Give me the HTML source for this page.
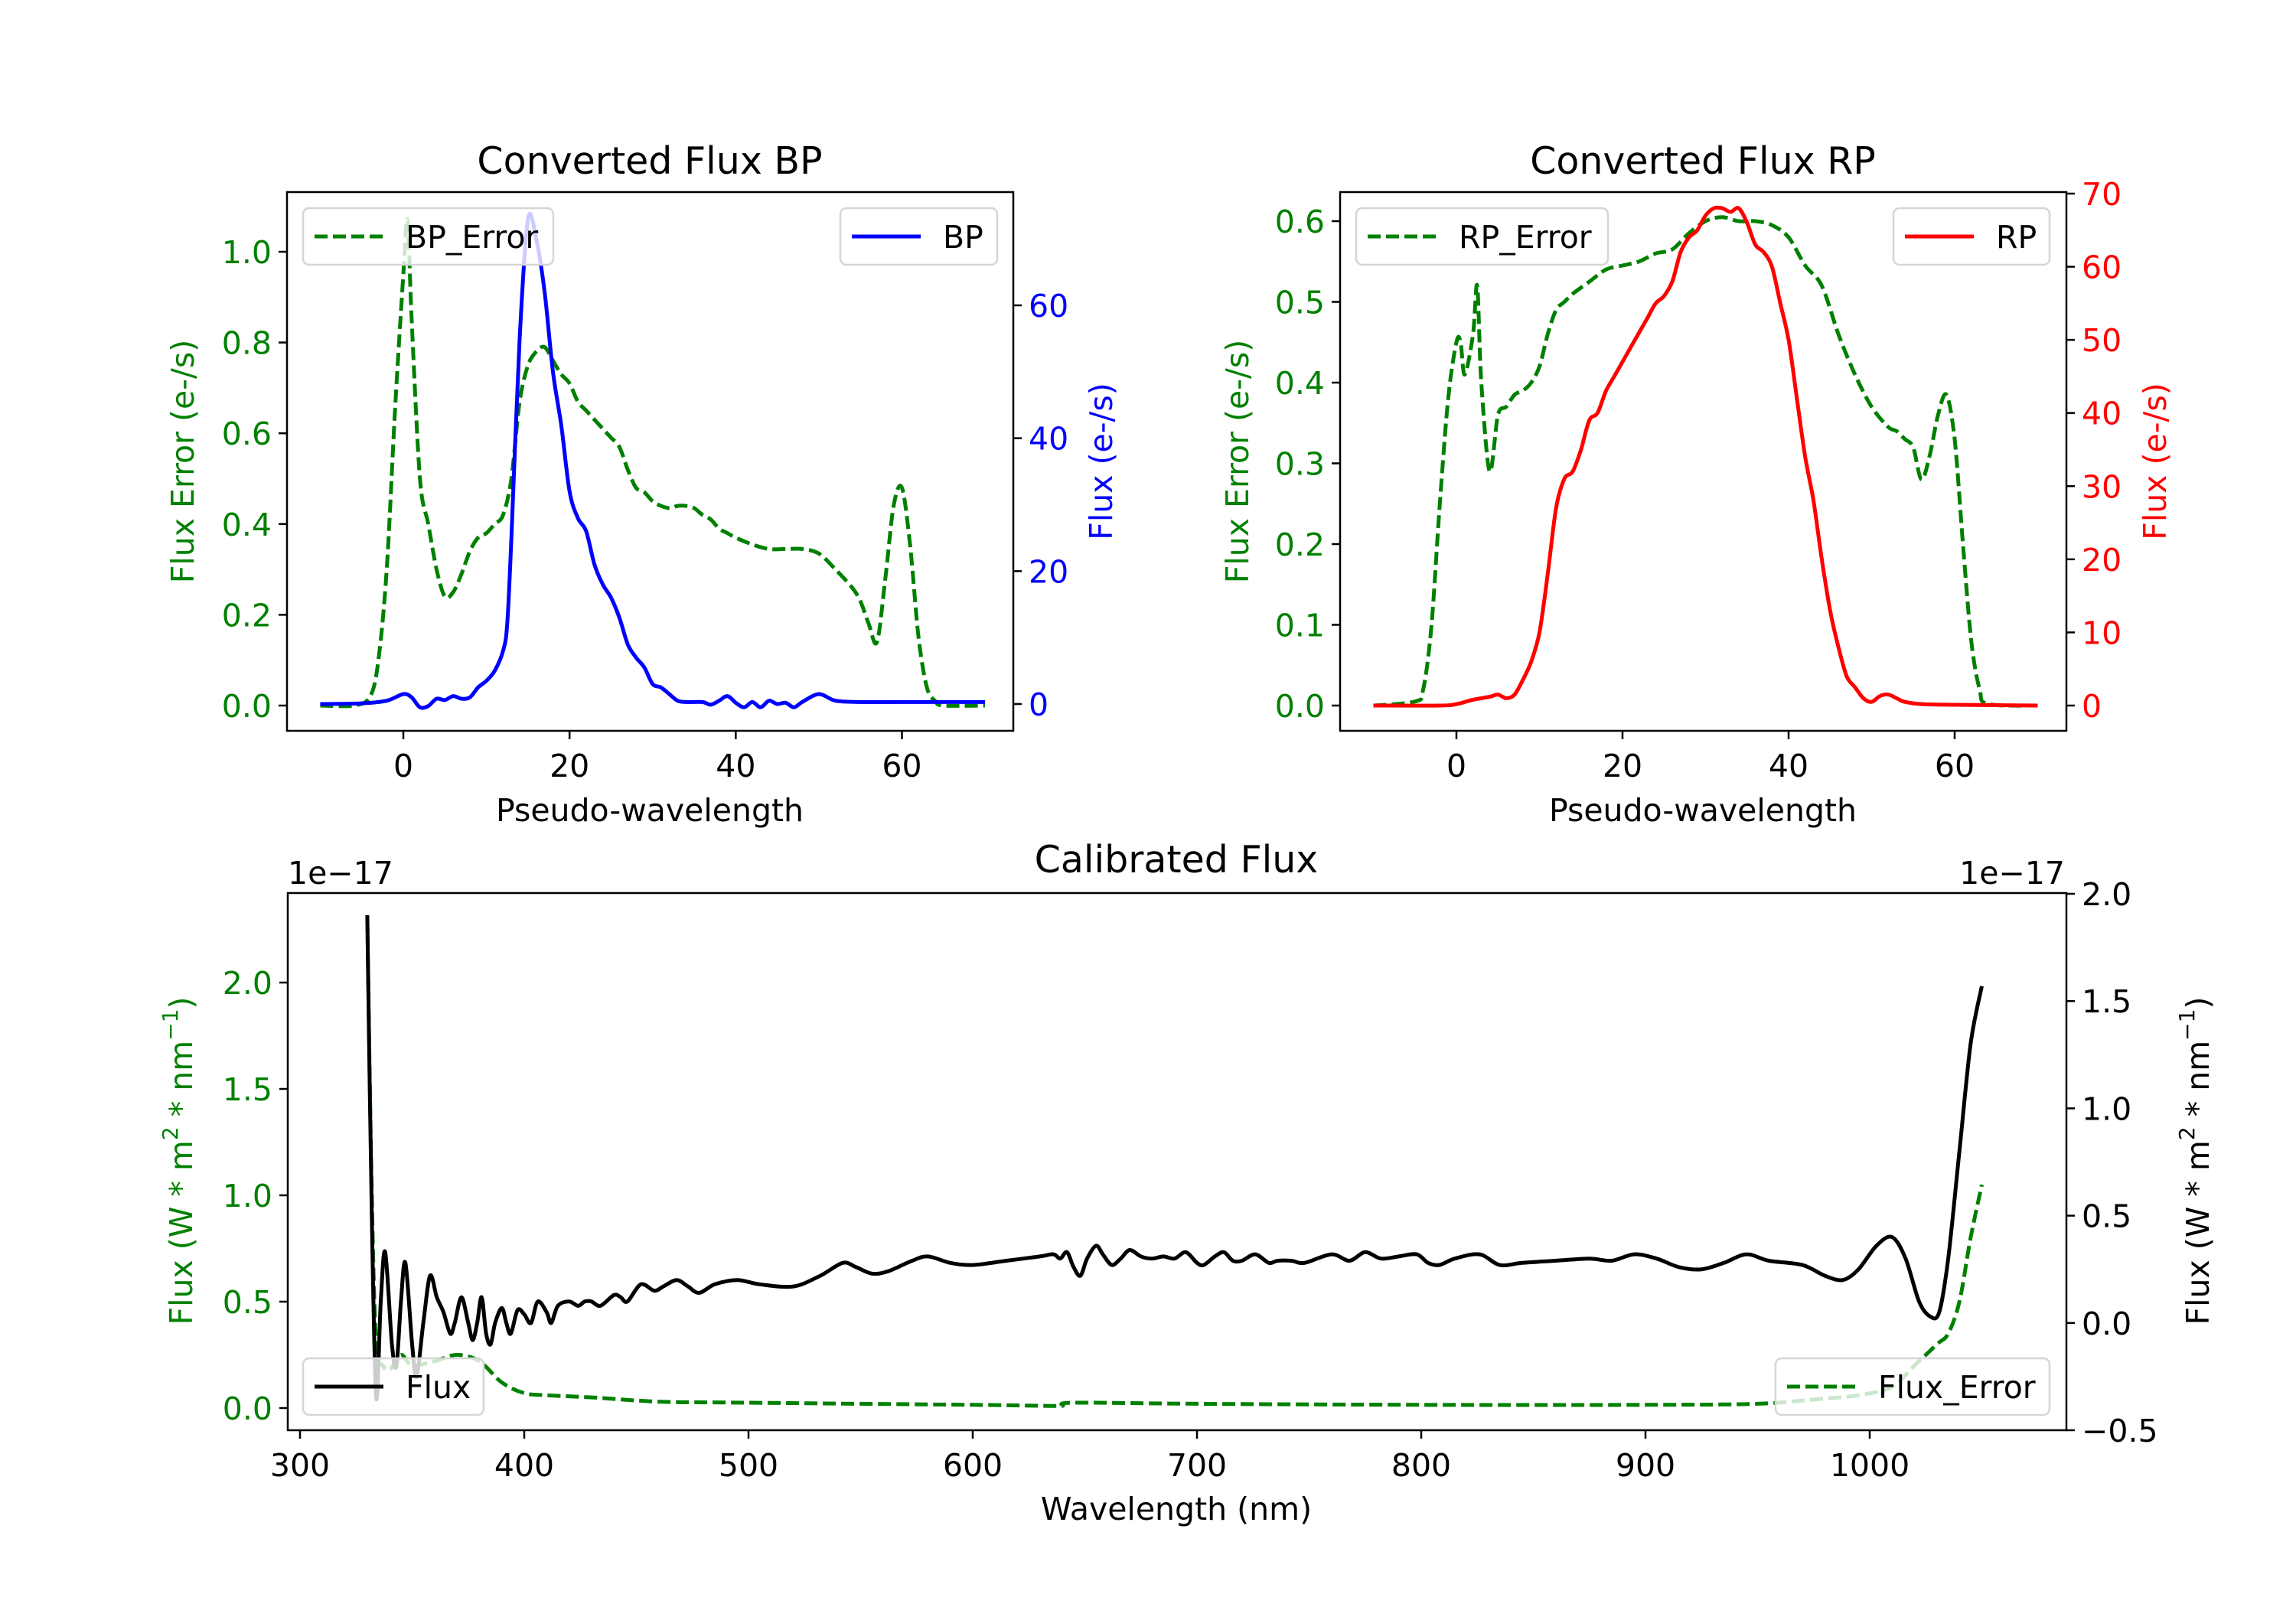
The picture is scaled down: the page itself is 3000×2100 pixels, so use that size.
<!DOCTYPE html>
<html><head><meta charset="utf-8"><style>
html,body{margin:0;padding:0;background:#fff;}
svg{display:block;font-family:"DejaVu Sans","Liberation Sans",sans-serif;}
</style></head><body>
<svg id="fig" width="3000" height="2100" viewBox="0 0 3000 2100" xmlns="http://www.w3.org/2000/svg">
<rect width="3000" height="2100" fill="#fff"/>
<g id="root"></g>
</svg>
<script>
// ---- BP panel data ----
const bpErrX = [-10,-6,-4,-3,-2,-1,0,0.5,1,2,3,4,5,6,7,8,9,10,11,12,13,14,15,16,17,18,19,20,21,22,23,24,25,26,27,28,29,30,31,32,33,34,35,36,37,38,39,40,42,44,46,48,50,52,54,55,56,57,58,59,60,61,62,63,64,65,70];
const bpErrY = [0,0,0.02,0.1,0.3,0.65,0.95,1.07,0.85,0.5,0.4,0.3,0.24,0.25,0.29,0.34,0.37,0.38,0.4,0.42,0.5,0.67,0.75,0.78,0.79,0.76,0.73,0.71,0.67,0.65,0.63,0.61,0.59,0.57,0.52,0.48,0.47,0.45,0.44,0.435,0.44,0.44,0.435,0.42,0.41,0.39,0.38,0.37,0.355,0.345,0.345,0.345,0.335,0.3,0.26,0.23,0.18,0.14,0.28,0.44,0.48,0.35,0.15,0.04,0.01,0,0];
const bpX = [-10,-5,-2,0,1,2,3,4,5,6,7,8,9,10,11,12,12.5,13,14,15,16,17,18,19,20,21,22,23,24,25,26,27,28,29,30,31,32,33,34,36,37,38,39,40,41,42,43,44,45,46,47,48,50,52,55,60,70];
const bpY = [0,0.1,0.5,1.5,1,-0.5,-0.3,0.8,0.6,1.2,0.8,1.0,2.5,3.5,5,8,12,25,55,73,70,62,50,42,32,28,26,21,18,16,13,9,7,5.5,3,2.5,1.5,0.5,0.3,0.3,-0.1,0.5,1.2,0.2,-0.5,0.3,-0.5,0.5,0,0.2,-0.5,0.3,1.5,0.5,0.3,0.3,0.3];
// ---- RP panel data ----
const rpErrX = [-10,-5,-4,-3,-2,-1,0,0.5,1,2,2.5,3,4,5,6,7,8,9,10,11,12,13,14,16,18,20,22,24,26,28,30,32,34,36,38,40,42,44,46,48,50,52,53,54,55,56,57,58,59,60,61,62,63,64,70];
const rpErrY = [0,0.005,0.02,0.1,0.25,0.38,0.45,0.45,0.41,0.46,0.52,0.4,0.29,0.36,0.37,0.385,0.39,0.4,0.42,0.46,0.49,0.5,0.51,0.525,0.54,0.545,0.55,0.56,0.565,0.585,0.6,0.605,0.6,0.6,0.595,0.58,0.545,0.52,0.46,0.41,0.37,0.345,0.34,0.33,0.32,0.28,0.31,0.36,0.385,0.33,0.2,0.08,0.02,0.002,0];
const rpX = [-10,-2,0,2,4,5,6,7,8,9,10,11,12,13,14,15,16,17,18,19,20,21,22,23,24,25,26,27,28,29,30,31,32,33,34,35,36,37,38,39,40,41,42,43,44,45,46,47,48,49,50,51,52,53,54,56,60,70];
const rpY = [0,0,0.2,0.8,1.2,1.5,1.0,1.5,3.5,6,10,18,27,31,32,35,39,40,43,45,47,49,51,53,55,56,58,62,64,65,67,68,68,67.5,68,66,63,62,60,55,50,42,34,28,20,13,8,4,2.5,1,0.5,1.3,1.5,1.0,0.5,0.2,0.1,0];
// ---- Calibrated panel data (units of 1e-17) ----
const calX = [330,332,334,336,338,341,343,345,347,350,352,355,358,361,364,367,369,372,375,377,379,381,383,385,387,390,392,394,397,400,403,406,410,412,415,420,424,427,430,434,440,443,446,452,458,462,468,473,478,485,495,505,520,532,542,548,555,562,573,580,590,600,615,630,636,639,642,645,648,651,655,658,662,666,670,675,680,685,690,695,700,703,708,712,716,720,726,732,736,742,748,760,768,775,782,790,798,803,808,815,826,835,845,860,875,885,895,905,915,925,935,945,955,970,980,988,995,1003,1010,1016,1022,1027,1031,1035,1040,1045,1050];
const calFlux = [1.9,0.5,-0.35,0.1,0.33,-0.1,-0.2,0.1,0.28,-0.1,-0.25,0.0,0.22,0.12,0.05,-0.05,0.0,0.12,0.0,-0.08,0.0,0.12,-0.05,-0.1,0.0,0.07,0.0,-0.05,0.06,0.04,0.0,0.1,0.05,0.0,0.08,0.1,0.08,0.1,0.1,0.08,0.13,0.12,0.1,0.18,0.15,0.17,0.2,0.17,0.14,0.18,0.2,0.18,0.17,0.22,0.28,0.26,0.23,0.24,0.29,0.31,0.28,0.27,0.29,0.31,0.32,0.3,0.33,0.26,0.22,0.3,0.36,0.32,0.27,0.3,0.34,0.31,0.3,0.31,0.3,0.33,0.28,0.27,0.31,0.33,0.29,0.29,0.32,0.28,0.29,0.29,0.28,0.32,0.29,0.33,0.3,0.31,0.32,0.28,0.27,0.3,0.32,0.27,0.28,0.29,0.3,0.29,0.32,0.3,0.26,0.25,0.28,0.32,0.29,0.27,0.22,0.2,0.25,0.36,0.4,0.3,0.1,0.03,0.05,0.3,0.8,1.3,1.57];
const calErrX = [330,332,334,337,340,345,350,360,370,380,390,400,410,430,460,500,600,635,640,645,700,800,900,950,975,995,1010,1020,1030,1035,1040,1045,1050];
const calErrY = [2.3,1.0,0.3,0.2,0.18,0.25,0.2,0.22,0.25,0.22,0.12,0.07,0.06,0.05,0.03,0.025,0.015,0.01,0.01,0.025,0.02,0.015,0.015,0.02,0.04,0.06,0.1,0.2,0.3,0.35,0.5,0.8,1.05];
const bpLeftTicks = [0.0,0.2,0.4,0.6,0.8,1.0];
const bpRightTicks = [0,20,40,60];
const rpLeftTicks = [0.0,0.1,0.2,0.3,0.4,0.5,0.6];
const rpRightTicks = [0,10,20,30,40,50,60,70];
const pseudoTicks = [0,20,40,60];
const calXTicks = [300,400,500,600,700,800,900,1000];
const calLeftTicks = [0.0,0.5,1.0,1.5,2.0];
const calRightTicks = [-0.5,0.0,0.5,1.0,1.5,2.0];

const NS = "http://www.w3.org/2000/svg";
const root = document.getElementById('root');
function mk(tag, attrs, parent, text){
  const e = document.createElementNS(NS, tag);
  for (const k in attrs) e.setAttribute(k, attrs[k]);
  if (text !== undefined) e.textContent = text;
  (parent || root).appendChild(e);
  return e;
}
function lin(d0,d1,p0,p1){ return v => p0 + (v-d0)*(p1-p0)/(d1-d0); }
function pathD(xs, ys, sx, sy){
  const P = xs.map((x,i)=>[sx(x), sy(ys[i])]);
  let d = 'M'+P[0][0].toFixed(1)+','+P[0][1].toFixed(1);
  for (let i=0;i<P.length-1;i++){
    const p0=P[Math.max(0,i-1)], p1=P[i], p2=P[i+1], p3=P[Math.min(P.length-1,i+2)];
    const t=0.16;
    const c1=[p1[0]+(p2[0]-p0[0])*t, p1[1]+(p2[1]-p0[1])*t];
    const c2=[p2[0]-(p3[0]-p1[0])*t, p2[1]-(p3[1]-p1[1])*t];
    d += 'C'+c1[0].toFixed(1)+','+c1[1].toFixed(1)+' '+c2[0].toFixed(1)+','+c2[1].toFixed(1)+' '+p2[0].toFixed(1)+','+p2[1].toFixed(1);
  }
  return d;
}
const FS = 41;
function fmt(v, dec){ const s = v.toFixed(dec); return s.replace('-', '\u2212'); }

function yTicksLeft(g, ticks, sy, x, color, dec){
  ticks.forEach(t => {
    const y = sy(t);
    const tk = mk('line',{x1:x-11,x2:x,y1:y,y2:y,stroke:'#000','stroke-width':2.5},g);
    
    
    const tl = mk('text',{x:x-20,y:y+15,'font-size':FS,fill:color,'text-anchor':'end'},g,fmt(t,dec));
    
    
  });
}
function yTicksRight(g, ticks, sy, x, color, dec){
  ticks.forEach(t => {
    const y = sy(t);
    const tk = mk('line',{x1:x,x2:x+11,y1:y,y2:y,stroke:'#000','stroke-width':2.5},g);
    
    
    const tl = mk('text',{x:x+20,y:y+15,'font-size':FS,fill:color,'text-anchor':'start'},g,fmt(t,dec));
    
    
  });
}
function xTicks(g, ticks, sx, y){
  ticks.forEach(t => {
    const x = sx(t);
    const tk = mk('line',{x1:x,x2:x,y1:y,y2:y+11,stroke:'#000','stroke-width':2.5},g);
    
    
    const tl = mk('text',{x:x,y:y+60,'font-size':FS,fill:'#000','text-anchor':'middle'},g,fmt(t,0));
    
    
  });
}
function legend(g, x, y, w, h, label, color, dashed, name){
  const lg = mk('g',{},g);
  
  
  mk('rect',{x:x,y:y,width:w,height:h,rx:8,fill:'#fff','fill-opacity':0.8,stroke:'#d6d6d6','stroke-width':2.5},lg);
  const cy = y + h/2;
  const a = {x1:x+15,x2:x+105,y1:cy,y2:cy,stroke:color,'stroke-width':5};
  if (dashed) a['stroke-dasharray']='17 7';
  mk('line',a,lg);
  mk('text',{x:x+134,y:cy+15,'font-size':FS,fill:'#000'},lg,label);
}
function vlabel(g, x, y, txt, color, name){
  const t = mk('text',{x:x,y:y,'font-size':FS,fill:color,'text-anchor':'middle',transform:`rotate(-90 ${x} ${y})`,'dominant-baseline':'central'},g,txt);
  
  
  return t;
}
function series(g, xs, ys, sx, sy, color, dashed, name, clip){
  const a = {d:pathD(xs,ys,sx,sy),fill:'none',stroke:color,'stroke-width':5,'stroke-linejoin':'round','clip-path':`url(#${clip})`};
  if (dashed) a['stroke-dasharray']='17 7';
  const p = mk('path',a,g);
  
  
}
const defs = mk('defs',{});
function clip(id,x,y,w,h){ const c = mk('clipPath',{id:id},defs); mk('rect',{x:x,y:y,width:w,height:h},c); }

// ===== BP panel =====
(function(){
  const L=375,R=1324,T=251,B=955;
  clip('cbp',L,T,R-L,B-T);
  const g = mk('g',{});
  
  
  const sx = lin(0,60,527,1178.5);
  const syL = lin(0,1.0,922,329);
  const syR = lin(0,60,920,399);
  series(g,bpErrX,bpErrY,sx,syL,'#008000',true,'bp-error-line','cbp');
  series(g,bpX,bpY,sx,syR,'#0000ff',false,'bp-flux-line','cbp');
  legend(g,396,272,327,74,'BP_Error','#008000',true,'bp-error-legend');
  legend(g,1098,272,205,74,'BP','#0000ff',false,'bp-legend');
  const fr = mk('rect',{x:L,y:T,width:R-L,height:B-T,fill:'none',stroke:'#000','stroke-width':2.5},g);
   
  yTicksLeft(g,bpLeftTicks,syL,L,'#008000',1);
  yTicksRight(g,bpRightTicks,syR,R,'#0000ff',0);
  xTicks(g,pseudoTicks,sx,B);
  const t = mk('text',{x:849,y:227,'font-size':49,'text-anchor':'middle'},g,'Converted Flux BP');
   
  const xl = mk('text',{x:849,y:1073,'font-size':FS,'text-anchor':'middle'},g,'Pseudo-wavelength');
   
  vlabel(g,239,603,'Flux Error (e-/s)','#008000','bp-y-axis-title');
  vlabel(g,1439,603,'Flux (e-/s)','#0000ff','bp-y2-axis-title');
})();

// ===== RP panel =====
(function(){
  const L=1751,R=2700,T=251,B=955;
  clip('crp',L,T,R-L,B-T);
  const g = mk('g',{});
  
  
  const sx = lin(0,60,1903,2554);
  const syL = lin(0,0.6,922,289);
  const syR = lin(0,70,922,253);
  series(g,rpErrX,rpErrY,sx,syL,'#008000',true,'rp-error-line','crp');
  series(g,rpX,rpY,sx,syR,'#ff0000',false,'rp-flux-line','crp');
  legend(g,1772,272,329,74,'RP_Error','#008000',true,'rp-error-legend');
  legend(g,2474,272,204,74,'RP','#ff0000',false,'rp-legend');
  const fr = mk('rect',{x:L,y:T,width:R-L,height:B-T,fill:'none',stroke:'#000','stroke-width':2.5},g);
   
  yTicksLeft(g,rpLeftTicks,syL,L,'#008000',1);
  yTicksRight(g,rpRightTicks,syR,R,'#ff0000',0);
  xTicks(g,pseudoTicks,sx,B);
  const t = mk('text',{x:2225,y:227,'font-size':49,'text-anchor':'middle'},g,'Converted Flux RP');
   
  const xl = mk('text',{x:2225,y:1073,'font-size':FS,'text-anchor':'middle'},g,'Pseudo-wavelength');
   
  vlabel(g,1617,603,'Flux Error (e-/s)','#008000','rp-y-axis-title');
  vlabel(g,2816,603,'Flux (e-/s)','#ff0000','rp-y2-axis-title');
})();

// ===== Calibrated panel =====
(function(){
  const L=376,R=2700,T=1167,B=1869;
  clip('ccal',L,T,R-L,B-T);
  const g = mk('g',{});
  
  
  const sx = lin(300,1000,392,2443);
  const syL = lin(0,2.0,1840,1284);
  const syR = lin(-0.5,2.0,1869,1168);
  series(g,calErrX,calErrY,sx,syL,'#008000',true,'flux-error-line','ccal');
  series(g,calX,calFlux,sx,syR,'#000000',false,'flux-line','ccal');
  legend(g,396,1775,236,74,'Flux','#000000',false,'flux-legend');
  legend(g,2320,1775,358,74,'Flux_Error','#008000',true,'flux-error-legend');
  const fr = mk('rect',{x:L,y:T,width:R-L,height:B-T,fill:'none',stroke:'#000','stroke-width':2.5},g);
   
  yTicksLeft(g,calLeftTicks,syL,L,'#008000',1);
  yTicksRight(g,calRightTicks,syR,R,'#000',1);
  xTicks(g,calXTicks,sx,B);
  const t = mk('text',{x:1537,y:1140,'font-size':49,'text-anchor':'middle'},g,'Calibrated Flux');
   
  const o1 = mk('text',{x:376,y:1155,'font-size':FS},g,'1e\u221217');
   
  const o2 = mk('text',{x:2698,y:1155,'font-size':FS,'text-anchor':'end'},g,'1e\u221217');
   
  const xl = mk('text',{x:1537,y:1986,'font-size':FS,'text-anchor':'middle'},g,'Wavelength (nm)');
   
  function unitLabel(x,y,color,name){
    const t = mk('text',{x:x,y:y,'font-size':FS,fill:color,'text-anchor':'middle',transform:`rotate(-90 ${x} ${y})`,'dominant-baseline':'central'},g);
     
    mk('tspan',{},t,'Flux (W * m');
    mk('tspan',{'font-size':28,dy:-15},t,'2');
    mk('tspan',{dy:15},t,' * nm');
    mk('tspan',{'font-size':28,dy:-15},t,'\u22121');
    mk('tspan',{dy:15},t,')');
  }
  unitLabel(237,1517,'#008000','calibrated-y-axis-title');
  unitLabel(2872,1517,'#000','calibrated-y2-axis-title');
})();
</script>
</body></html>
